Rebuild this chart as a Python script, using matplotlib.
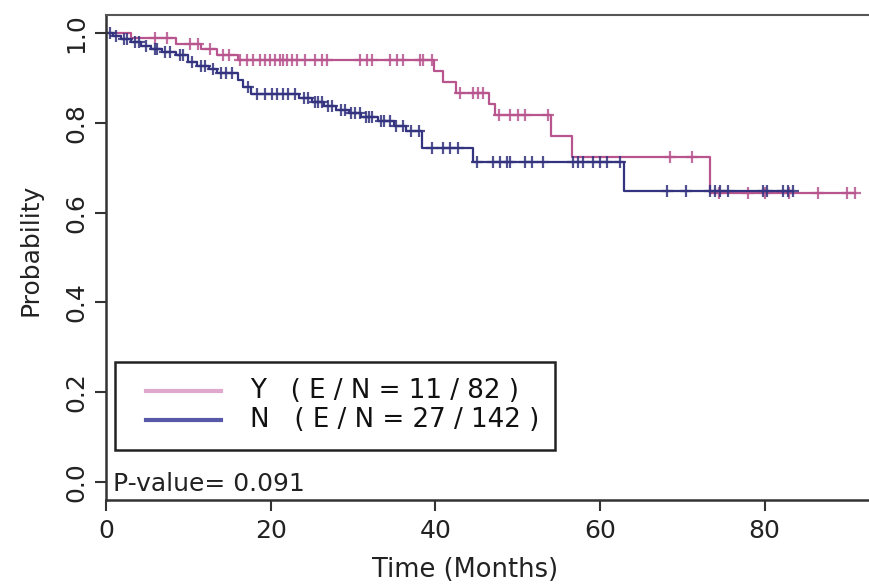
import numpy as np
import matplotlib
matplotlib.use("Agg")
import matplotlib.pyplot as plt
from matplotlib.patches import Rectangle

plt.rcParams['font.family'] = ['DejaVu Sans']

# group Y : step times / survival after each event
y_times = [0, 3.0, 8.5, 11.5, 13.5, 16.0, 39.8, 41.0, 42.5, 46.5, 47.3, 54.0, 56.6, 73.4, 91.0]
y_surv = [1.0, 0.988, 0.976, 0.964, 0.952, 0.940, 0.915, 0.890, 0.866, 0.842, 0.818, 0.771, 0.724, 0.644, 0.644]
y_cens = [6.0, 7.4, 10.2, 11.2, 12.6, 14.2, 14.9, 16.3, 17.1,
          17.9, 18.7, 19.3, 19.9, 20.5, 21.1, 21.5, 22.0, 22.6, 23.2, 24.2, 25.4, 26.2, 26.9,
          30.9, 31.7, 32.3, 34.5, 35.4, 36.1, 38.2, 38.5, 39.6,
          43.0, 44.6, 45.2, 45.8, 47.8, 49.1, 50.1, 50.9, 53.7, 68.5, 71.2,
          74.5, 78.0, 80.0, 83.0, 86.5, 90.0, 91.0]

# group N
n_times = [0, 0.8, 1.8, 3.0, 4.2, 5.5, 6.8, 8.5, 10.0, 11.0, 12.5, 13.5, 16.0, 16.6, 17.6,
           23.5, 25.0, 26.5, 28.0, 29.5, 31.0, 33.0, 35.0, 36.5, 38.4, 44.6, 62.9, 83.5]
n_surv = [1.0, 0.993, 0.986, 0.979, 0.972, 0.965, 0.958, 0.950, 0.935, 0.927, 0.919, 0.911, 0.895, 0.879, 0.865,
          0.855, 0.847, 0.838, 0.829, 0.821, 0.812, 0.803, 0.793, 0.782, 0.744, 0.713, 0.647, 0.647]
n_cens = [0.5, 1.2, 2.2, 2.6, 3.5, 4.0, 4.8, 5.9, 6.2, 7.2, 7.8, 9.0, 9.4, 10.5, 11.6, 12.0, 13.0, 14.0, 14.6, 15.3,
          17.2, 18.3, 19.3, 20.2, 20.8, 21.5, 22.1, 23.0, 24.0, 24.6, 25.4, 25.8, 26.2, 27.0, 27.4, 28.5, 29.0,
          29.8, 30.3, 30.8, 31.6, 32.0, 32.3, 33.4, 33.8, 34.5, 35.2, 36.1, 37.0, 38.0,
          39.6, 40.9, 41.8, 42.8, 45.1, 47.0, 47.9, 48.7, 49.1, 50.9, 51.8, 53.1, 56.7, 57.4, 58.0, 59.2,
          60.0, 60.9, 62.5, 68.2, 70.4, 73.4, 74.0, 74.6, 75.6, 79.8, 80.3, 82.3, 82.9, 83.5]

labels = ["Y   ( E / N = 11 / 82 )", "N   ( E / N = 27 / 142 )"]
p_text = "P-value= 0.091"

pink = '#b8558f'
blue = '#33337f'


def surv_at(times, surv, t):
    idx = np.searchsorted(times, t, side='right') - 1
    return np.array(surv)[idx]


fig = plt.figure(figsize=(8.7, 5.85), dpi=100)
ax = fig.add_axes([106/870, 85/585, 782/870, 485/585])

for times, surv, cens, col in [(y_times, y_surv, y_cens, pink), (n_times, n_surv, n_cens, blue)]:
    ax.step(times, surv, where='post', color=col, lw=1.6)
    ax.plot(cens, surv_at(times, surv, cens), '+', color=col, ms=9, mew=1.6, alpha=0.85)

ax.set_xlim(0, 95)
ax.set_ylim(-0.04, 1.04)
ax.set_xticks([0, 20, 40, 60, 80])
ax.set_yticks([0, 0.2, 0.4, 0.6, 0.8, 1.0])
ax.set_yticklabels(['0.0', '0.2', '0.4', '0.6', '0.8', '1.0'], rotation=90, va='center')
ax.tick_params(axis='both', length=8, width=1.5, color='#333333', labelsize=18, labelcolor='#222222')
ax.tick_params(axis='y', pad=5)
ax.tick_params(axis='x', pad=6)
for s in ['left', 'bottom']:
    ax.spines[s].set_linewidth(1.8)
    ax.spines[s].set_color('#333333')
ax.spines['top'].set_linewidth(1.5)
ax.spines['top'].set_color('#555555')
ax.spines['right'].set_visible(False)

ax.set_xlabel("Time (Months)", fontsize=18.5, color='#222222')
ax.xaxis.set_label_coords(0.459, -0.144)
ax.xaxis.label.set_va('center')
ax.set_ylabel("Probability", fontsize=18, color='#222222')
ax.yaxis.set_label_coords(-0.097, 0.515)
ax.yaxis.label.set_va('center')

# legend box drawn by hand
ax.add_patch(Rectangle((0.0115, 0.103), 0.5625, 0.1815, transform=ax.transAxes,
                       fill=False, lw=1.8, ec='#222222', zorder=5))
leg_cols = ['#e0a8cc', '#5858a8']
leg_y = [0.2247, 0.165]
for lab, col, yy in zip(labels, leg_cols, leg_y):
    ax.plot([0.051, 0.147], [yy, yy], transform=ax.transAxes, color=col, lw=3)
    ax.text(0.184, yy, lab, transform=ax.transAxes, fontsize=18.8, va='center', ha='left', color='#111111')

ax.text(0.009, 0.033, p_text, transform=ax.transAxes, fontsize=18, va='center', ha='left', color='#222222')

fig.savefig('out.png', dpi=100)
